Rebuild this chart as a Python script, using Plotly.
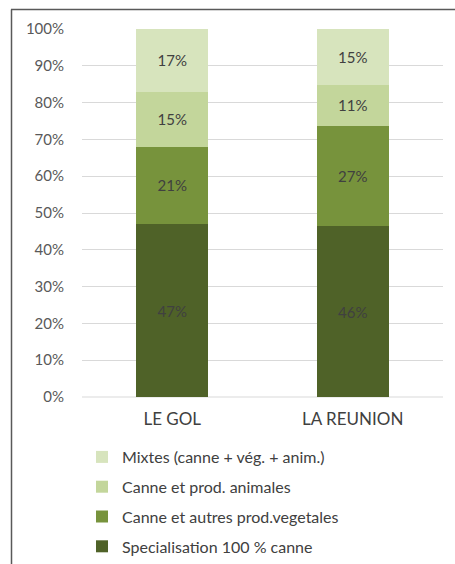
import plotly.graph_objects as go

categories = ["LE GOL", "LA REUNION"]
series_names = [
    "Specialisation 100 % canne",
    "Canne et autres prod.vegetales",
    "Canne et prod. animales",
    "Mixtes (canne + vég. + anim.)",
]
specialisation = [47, 46]
autres_veg = [21, 27]
prod_animales = [15, 11]
mixtes = [17, 15]
series_values = [specialisation, autres_veg, prod_animales, mixtes]
colors = ["#4F6228", "#77933C", "#C3D69B", "#D7E4BD"]
tick_vals = [0, 10, 20, 30, 40, 50, 60, 70, 80, 90, 100]
tick_text = [f"{v}%" for v in tick_vals]

FONT = "Lato"
TXT = "#404040"

fig = go.Figure()
for i, (name, vals, col) in enumerate(zip(series_names, series_values, colors)):
    fig.add_trace(go.Bar(
        x=categories, y=vals, name=name, marker_color=col,
        marker_line_width=0,
        text=[f"{v}%" for v in vals], textposition="inside",
        insidetextanchor="middle",
        textfont=dict(family=FONT, size=15, color=TXT),
        legendgroup=f"g{i}", legendrank=100 - i,
        hoverinfo="skip",
    ))

W, H = 455, 564
L, R, T, B = 82, 12, 29, 167
pw, ph = W - L - R, H - T - B

def px2x(px):
    return (px - L) / pw

def py2y(py):
    return (H - B - py) / ph

fig.update_layout(
    width=W, height=H,
    margin=dict(l=L, r=R, t=T, b=B, autoexpand=False),
    barmode="stack", barnorm="percent",
    bargap=0.6,
    paper_bgcolor="white", plot_bgcolor="white",
    font=dict(family=FONT, color=TXT, size=14),
    xaxis=dict(showgrid=False, showline=False, ticks="outside", ticklen=7,
               tickcolor="rgba(0,0,0,0)",
               tickfont=dict(family=FONT, size=17, color=TXT)),
    yaxis=dict(range=[0, 100], tickvals=tick_vals, ticktext=tick_text,
               showgrid=True, gridcolor="#D9D9D9", gridwidth=1,
               zeroline=False, showline=False, ticks="outside", ticklen=14,
               tickcolor="rgba(0,0,0,0)",
               tickfont=dict(family=FONT, size=15, color="#595959")),
    legend=dict(x=px2x(82), y=py2y(440), xanchor="left", yanchor="top",
                traceorder="grouped", tracegroupgap=6,
                font=dict(family=FONT, size=16, color=TXT),
                bgcolor="rgba(0,0,0,0)"),
    showlegend=True,
    shapes=[
        dict(type="line", xref="paper", yref="paper",
             x0=px2x(11), x1=px2x(470), y0=py2y(9.5), y1=py2y(9.5),
             line=dict(color="#595959", width=1.5)),
        dict(type="line", xref="paper", yref="paper",
             x0=px2x(11.5), x1=px2x(11.5), y0=py2y(9.5), y1=py2y(580),
             line=dict(color="#595959", width=1.5)),
        dict(type="line", xref="paper", yref="paper",
             x0=0, x1=1, y0=0, y1=0, layer="below",
             line=dict(color="#D9D9D9", width=1)),
    ],
)

fig.write_html("out.html", config={"displayModeBar": False},
               post_script="document.body.style.margin='0';")
